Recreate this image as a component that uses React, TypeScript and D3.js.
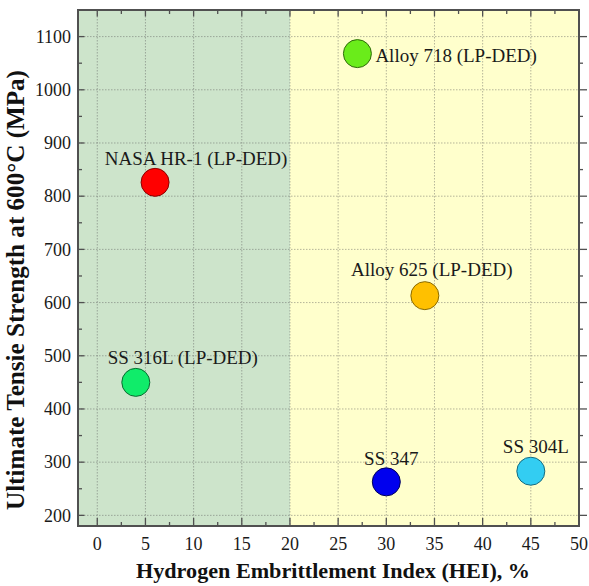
import React from "react";
import * as d3 from "d3";

const materials = ["NASA HR-1 (LP-DED)", "SS 316L (LP-DED)", "Alloy 718 (LP-DED)", "Alloy 625 (LP-DED)", "SS 347", "SS 304L"];
const hei = [6, 4, 27, 34, 30, 45];
const uts = [826, 450, 1068, 613, 263, 283];
const fills = ["#ff0000", "#10ec6a", "#6aec1a", "#ffc000", "#0000ee", "#33cdf2"];
const strokes = ["#8a0000", "#0a6a30", "#2f6a0a", "#8a6a00", "#00005a", "#156a80"];
const xTicks = [0, 5, 10, 15, 20, 25, 30, 35, 40, 45, 50];
const yTicks = [200, 300, 400, 500, 600, 700, 800, 900, 1000, 1100];
const zoneEdges = [-2, 20, 50];
const zoneColors = ["#cde4cb", "#ffffcc"];
const xTitle = "Hydrogen Embrittlement Index (HEI), %";
const yTitle = "Ultimate Tensie Strength at 600°C (MPa)";

// label placement (offsets in px from the point)
const labelPos = [
  { dx: 41, dy: -17, anchor: "middle" },
  { dx: 47, dy: -18, anchor: "middle" },
  { dx: 18, dy: 8, anchor: "start" },
  { dx: 7, dy: -20, anchor: "middle" },
  { dx: 5, dy: -17, anchor: "middle" },
  { dx: 5, dy: -18, anchor: "middle" },
];

const W = 589, H = 586;
const L = 78, R = 579, T = 10, B = 526;
const FONT = "'Liberation Serif', 'Times New Roman', serif";

export default function App() {
  const x = d3.scaleLinear().domain([-2, 50]).range([L, R]);
  const y = d3.scaleLinear().domain([180, 1150]).range([B, T]);
  const xMinor = d3.range(-2.5, 50.01, 2.5).filter((v) => v >= -2 && v <= 50 && !xTicks.includes(v));
  const yMinor = d3.range(200, 1150, 50).filter((v) => !yTicks.includes(v));
  const major = 8, minor = 4;
  const axisColor = "#505050";

  return (
    <svg width={W} height={H} style={{ position: "absolute", left: 0, top: 0, background: "#fff" }} fontFamily={FONT}>
      {zoneColors.map((c, i) => (
        <rect key={i} x={x(zoneEdges[i])} y={T} width={x(zoneEdges[i + 1]) - x(zoneEdges[i])} height={B - T} fill={c} />
      ))}
      {/* grid */}
      <g stroke="#5a5a5a" strokeOpacity={0.45} strokeWidth={1} strokeDasharray="1.5,1.5">
        {xTicks.map((t) => (
          <line key={"gx" + t} x1={x(t)} x2={x(t)} y1={T} y2={B} />
        ))}
        {yTicks.map((t) => (
          <line key={"gy" + t} x1={L} x2={R} y1={y(t)} y2={y(t)} />
        ))}
      </g>
      {/* ticks */}
      <g stroke={axisColor} strokeWidth={1.3}>
        {xTicks.map((t) => (
          <g key={"tx" + t}>
            <line x1={x(t)} x2={x(t)} y1={B} y2={B - major} />
            <line x1={x(t)} x2={x(t)} y1={T} y2={T + major * 0.8} />
          </g>
        ))}
        {xMinor.map((t) => (
          <g key={"mx" + t}>
            <line x1={x(t)} x2={x(t)} y1={B} y2={B - minor} />
            <line x1={x(t)} x2={x(t)} y1={T} y2={T + minor} />
          </g>
        ))}
        {yTicks.map((t) => (
          <g key={"ty" + t}>
            <line x1={L} x2={L + major * 0.8} y1={y(t)} y2={y(t)} />
            <line x1={R} x2={R + major} y1={y(t)} y2={y(t)} />
          </g>
        ))}
        {yMinor.map((t) => (
          <g key={"my" + t}>
            <line x1={L} x2={L + minor} y1={y(t)} y2={y(t)} />
            <line x1={R} x2={R + minor} y1={y(t)} y2={y(t)} />
          </g>
        ))}
      </g>
      <rect x={L} y={T} width={R - L} height={B - T} fill="none" stroke={axisColor} strokeWidth={2} />
      {/* tick labels */}
      <g fontSize={18} fill="#1a1a1a">
        {xTicks.map((t) => (
          <text key={"lx" + t} x={x(t)} y={550} textAnchor="middle">{t}</text>
        ))}
        {yTicks.map((t) => (
          <text key={"ly" + t} x={71} y={y(t)} dy="0.35em" textAnchor="end">{t}</text>
        ))}
      </g>
      {/* titles */}
      <text x={333} y={578} textAnchor="middle" fontSize={22} fontWeight="bold" fill="#111" textLength={394} lengthAdjust="spacingAndGlyphs">{xTitle}</text>
      <text transform={`translate(24, 290) rotate(-90)`} textAnchor="middle" fontSize={24.5} fontWeight="bold" fill="#111" textLength={440} lengthAdjust="spacingAndGlyphs">{yTitle}</text>
      {/* points */}
      {materials.map((m, i) => (
        <g key={m}>
          <circle cx={x(hei[i])} cy={y(uts[i])} r={14} fill={fills[i]} stroke={strokes[i]} strokeWidth={1} />
          <text x={x(hei[i]) + labelPos[i].dx} y={y(uts[i]) + labelPos[i].dy} textAnchor={labelPos[i].anchor} fontSize={19} fill="#1a1a1a">{m}</text>
        </g>
      ))}
    </svg>
  );
}
